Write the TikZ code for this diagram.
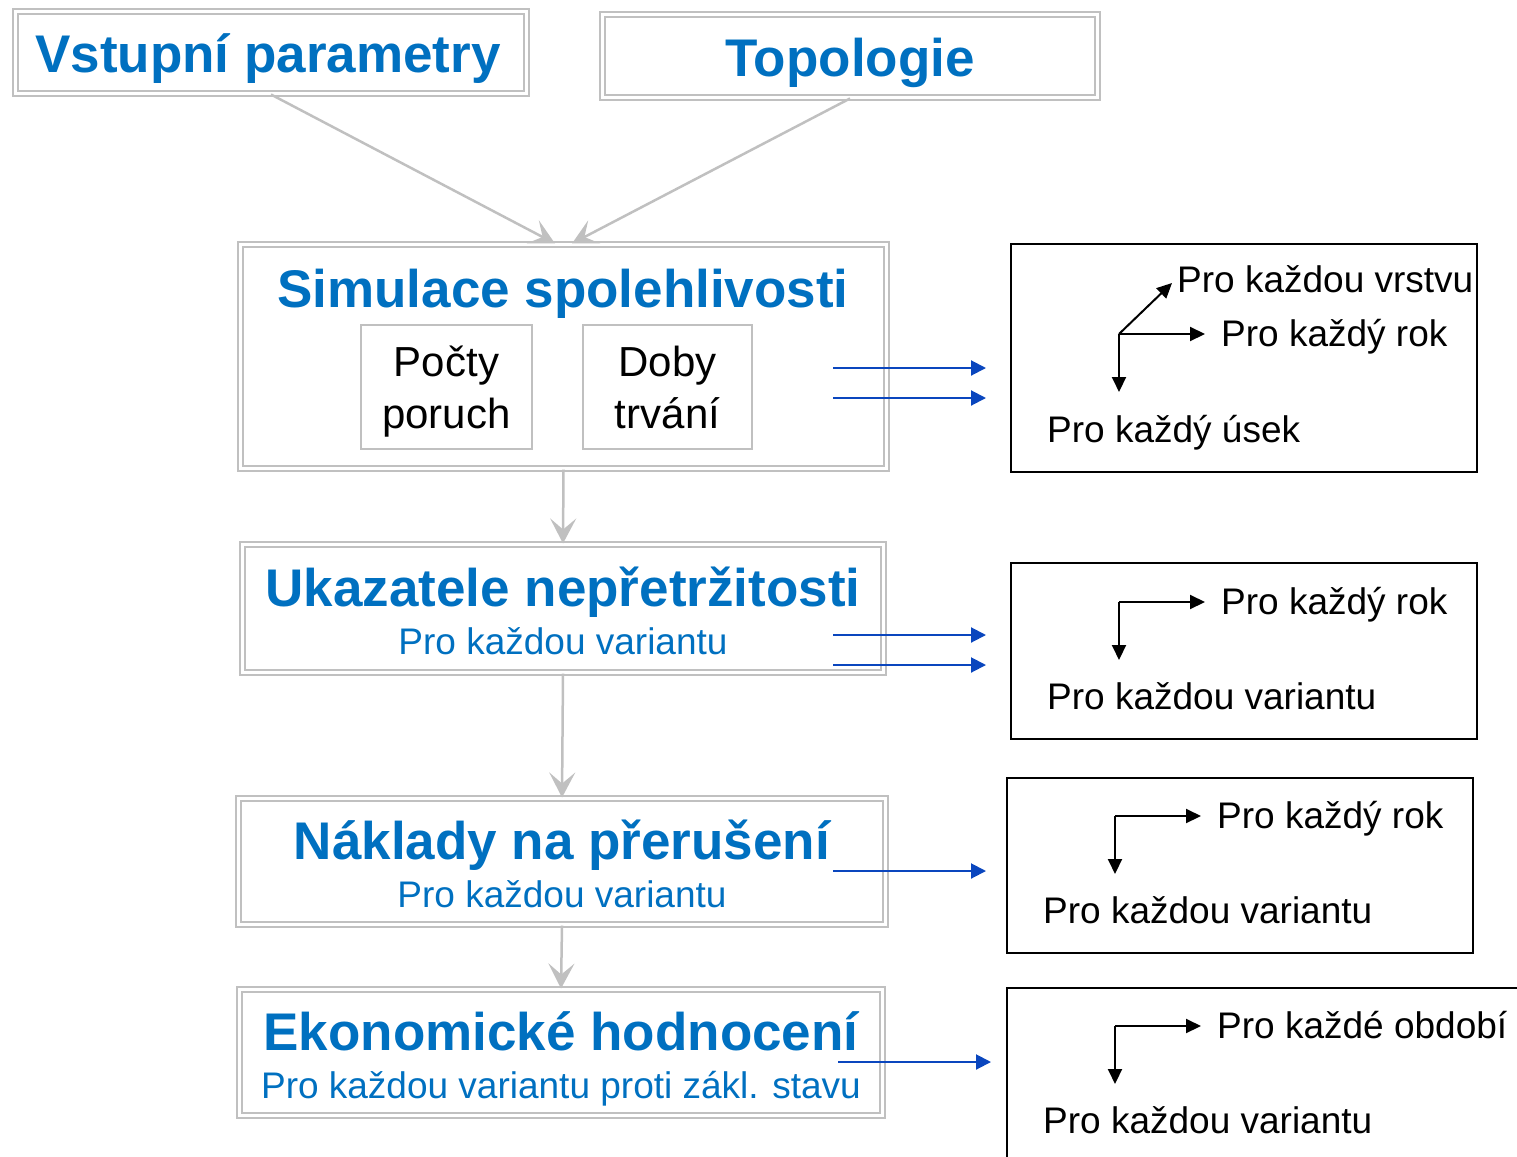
\documentclass[tikz,border=0pt]{standalone}
\usepackage{fontspec}
\setmainfont{Liberation Sans}
\usepackage{xcolor}
\definecolor{headblue}{RGB}{0,112,192}
\definecolor{feedblue}{RGB}{10,70,190}
\definecolor{frame}{RGB}{192,192,192}
\usetikzlibrary{arrows.meta}
\tikzset{
  dblbox/.style={draw=frame,line width=2pt,double=white,double distance=3pt,rectangle,inner sep=0},
  subbox/.style={draw=frame,line width=1.5pt,rectangle,inner sep=0,align=center,font=\fontsize{42}{52}\selectfont},
  notebox/.style={draw=black,line width=2pt,rectangle,inner sep=0},
  headtxt/.style={anchor=base,inner sep=0,text=headblue,font=\bfseries\fontsize{53}{60}\selectfont},
  subtxt/.style={anchor=base,inner sep=0,text=headblue,font=\fontsize{37}{44}\selectfont},
  notetxt/.style={anchor=base west,inner sep=0,font=\fontsize{37}{44}\selectfont},
  flow/.style={draw=frame,line width=2.5pt,-{Stealth[length=25pt,width=26pt,inset=11pt]}},
  feed/.style={draw=feedblue,line width=2pt,-{Triangle[length=15pt,width=15pt]}},
  dimarrow/.style={draw=black,line width=2pt,-{Triangle[length=15pt,width=14pt]}}
}
\begin{document}
\begin{tikzpicture}[x=1pt,y=-1pt]
\clip (0,0) rectangle (1517,1156);
%input blocks
\node (vstup) at (271,52.5) [dblbox,minimum width=511pt,minimum height=82pt] {};
\node (topo) at (850,56) [dblbox,minimum width=495pt,minimum height=83pt] {};
\node (vstupT) at (268,72) [headtxt] {Vstupní parametry};
\node (topoT) at (850,76) [headtxt] {Topologie};

%main chain
\node (sim) at (563.5,356.5) [dblbox,minimum width=646pt,minimum height=224pt] {};
\node (ukaz) at (563,608.5) [dblbox,minimum width=641pt,minimum height=128pt] {};
\node (nakl) at (562,861.5) [dblbox,minimum width=647pt,minimum height=126pt] {};
\node (ekon) at (561,1052.5) [dblbox,minimum width=643pt,minimum height=126pt] {};
\node (simT) at (563,307) [headtxt] {Simulace spolehlivosti};
\node (ukazT) at (563,606) [headtxt] {Ukazatele nepřetržitosti};
\node (ukazS) at (563,654) [subtxt] {Pro každou variantu};
\node (naklT) at (562,859) [headtxt] {Náklady na přerušení};
\node (naklS) at (562,907) [subtxt] {Pro každou variantu};
\node (ekonT) at (561,1050) [headtxt] {Ekonomické hodnocení};
\node (ekonS) at (561,1098) [subtxt] {Pro každou variantu proti zákl. stavu};
\node (pocty) at (446.5,387) [subbox,minimum width=171pt,minimum height=124pt] {\vphantom{Doby}\smash{Počty}\\\vphantom{trvání}\smash{poruch}};
\node (doby) at (667.5,387) [subbox,minimum width=169pt,minimum height=124pt] {Doby\\trvání};

\draw [flow] (vstup.south) -- ([xshift=-8.5pt]sim.north);
\draw [flow] (topo.south) -- ([xshift=8.5pt]sim.north);
\draw [flow] (sim.south) -- (ukaz.north);
\draw [flow] (ukaz.south) -- (nakl.north);
\draw [flow] (nakl.south) -- (ekon.north);

%output blocks
\node (out1) at (1244,358) [notebox,minimum width=466pt,minimum height=228pt] {};
\node (out2) at (1244,651) [notebox,minimum width=466pt,minimum height=176pt] {};
\node (out3) at (1240,865.5) [notebox,minimum width=466pt,minimum height=175pt] {};
\node (out4) at (1273.5,1084) [notebox,minimum width=533pt,minimum height=192pt] {};

%blue feeds
\foreach \n/\y in {1/368,2/398}{
  \coordinate (fa\n) at (833,\y);
  \draw [feed] (fa\n) -- (fa\n -| out1.west) [shorten >=24pt];
}
\foreach \n/\y in {3/635,4/665}{
  \coordinate (fa\n) at (833,\y);
  \draw [feed] (fa\n) -- (fa\n -| out2.west) [shorten >=24pt];
}
\coordinate (fa5) at (833,871);
\draw [feed, shorten >=20pt] (fa5) -- (fa5 -| out3.west);
\coordinate (fa6) at (838,1062);
\draw [feed, shorten >=15pt] (fa6) -- (fa6 -| out4.west);

%dimensions
\node (vrstva) at (1177,292) [notetxt] {Pro každou vrstvu};
\node (rok1) at (1221,346) [notetxt] {Pro každý rok};
\node (usek) at (1047,442) [notetxt] {Pro každý úsek};
\coordinate (c1) at (1119,334);
\draw [dimarrow] (c1) -- ++(53,-51);
\draw [dimarrow] (c1) -- ++(86,0);
\draw [dimarrow] (c1) -- ++(0,58);

\node (rok2) at (1221,614) [notetxt] {Pro každý rok};
\node (var2) at (1047,709) [notetxt] {Pro každou variantu};
\coordinate (c2) at (1119,602);
\draw [dimarrow] (c2) -- ++(86,0);
\draw [dimarrow] (c2) -- ++(0,58);

\node (rok3) at (1217,828) [notetxt] {Pro každý rok};
\node (var3) at (1043,923) [notetxt] {Pro každou variantu};
\coordinate (c3) at (1115,816);
\draw [dimarrow] (c3) -- ++(86,0);
\draw [dimarrow] (c3) -- ++(0,58);

\node (obd4) at (1217,1038) [notetxt] {Pro každé období};
\node (var4) at (1043,1133) [notetxt] {Pro každou variantu};
\coordinate (c4) at (1115,1026);
\draw [dimarrow] (c4) -- ++(86,0);
\draw [dimarrow] (c4) -- ++(0,58);
\end{tikzpicture}
\end{document}
